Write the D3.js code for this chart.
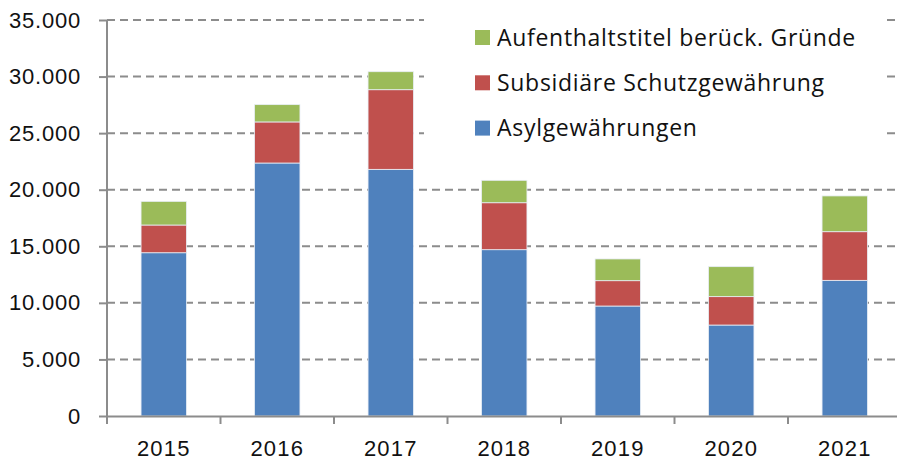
<!DOCTYPE html>
<html>
<head>
<meta charset="utf-8">
<script src="https://cdn.jsdelivr.net/npm/d3@7"></script>
<style>
  body { margin: 0; background: #fff; }
  svg { display: block; font-family: "Open Sans", "Lato", sans-serif; }
</style>
</head>
<body>
<script>
// jahre und werte (gestapelt)
var jahre = ["2015", "2016", "2017", "2018", "2019", "2020", "2021"];
var asyl = [14430, 22360, 21800, 14700, 9720, 8040, 11990];
var subsidiaer = [2450, 3630, 7040, 4150, 2240, 2510, 4300];
var aufenthalt = [2090, 1530, 1590, 1980, 1920, 2650, 3160];
var serienNamen = ["Asylgewährungen", "Subsidiäre Schutzgewährung", "Aufenthaltstitel berück. Gründe"];
var farben = ["#4F81BD", "#C0504D", "#9BBB59"];
var yTicks = [0, 5000, 10000, 15000, 20000, 25000, 30000, 35000];

var vis = { w: 897, h: 463, left: 107, right: 901.5, top: 20, bottom: 416 };

var svg = d3.select("body").append("svg")
    .attr("width", vis.w).attr("height", vis.h);

var tabelle = jahre.map(function(j, i) {
  return { jahr: j, a: asyl[i], s: subsidiaer[i], g: aufenthalt[i] };
});
var stapel = d3.stack().keys(["a", "s", "g"])(tabelle);

var x = d3.scaleBand().domain(jahre).range([vis.left, vis.right]).paddingInner(0.6).paddingOuter(0.3);
var y = d3.scaleLinear().domain([0, 35000]).range([vis.bottom, vis.top]);

var fmt = function(d) { return d3.format(",")(d).replace(/,/g, "."); };

// gitterlinien
svg.append("g").selectAll("line")
  .data(yTicks.filter(function(d) { return d > 0; }))
  .enter().append("line")
  .attr("x1", vis.left).attr("x2", vis.w)
  .attr("y1", function(d) { return y(d); }).attr("y2", function(d) { return y(d); })
  .attr("stroke", "#8c8c8c").attr("stroke-width", 2).attr("stroke-dasharray", "8,5");

// balken
svg.append("g").selectAll("g")
  .data(stapel).enter().append("g")
  .attr("fill", function(d, i) { return farben[i]; })
  .selectAll("rect")
  .data(function(d) { return d; })
  .enter().append("rect")
  .attr("x", function(d) { return x(d.data.jahr); })
  .attr("width", x.bandwidth())
  .attr("y", function(d) { return y(d[1]); })
  .attr("height", function(d) { return y(d[0]) - y(d[1]); })
  .attr("stroke", "#e8eef6").attr("stroke-width", 0.8);

// y achse
var yAchse = svg.append("g").attr("transform", "translate(" + vis.left + ",0)")
  .call(d3.axisLeft(y).tickValues(yTicks).tickFormat(fmt).tickSize(8).tickPadding(18));
yAchse.select(".domain").attr("stroke", "#8c8c8c").attr("stroke-width", 2)
  .attr("d", "M0," + vis.top + "V" + vis.bottom);
yAchse.selectAll(".tick line").attr("stroke", "#8c8c8c").attr("stroke-width", 2);
yAchse.selectAll("text").attr("font-size", 22).attr("fill", "#111").attr("letter-spacing", 0.8);

// x achse
var xAchse = svg.append("g").attr("transform", "translate(0," + vis.bottom + ")")
  .call(d3.axisBottom(x).tickSize(0).tickPadding(24));
xAchse.select(".domain").attr("stroke", "#8c8c8c").attr("stroke-width", 2);
xAchse.selectAll("text").attr("font-size", 22).attr("fill", "#111").attr("letter-spacing", 1.2);
// trennstriche zwischen kategorien
svg.append("g").selectAll("line")
  .data(d3.range(jahre.length + 1))
  .enter().append("line")
  .attr("x1", function(i) { return vis.left + i * (vis.right - vis.left) / jahre.length; })
  .attr("x2", function(i) { return vis.left + i * (vis.right - vis.left) / jahre.length; })
  .attr("y1", vis.bottom).attr("y2", vis.bottom + 8)
  .attr("stroke", "#8c8c8c").attr("stroke-width", 2);

// legende
var leg = svg.append("g");
leg.append("rect").attr("x", 424).attr("y", 6).attr("width", 459).attr("height", 140).attr("fill", "#fff");
var reihen = [2, 1, 0];
reihen.forEach(function(s, k) {
  var yy = 37.5 + k * 45.3;
  leg.append("rect").attr("x", 475).attr("y", yy - 7.5).attr("width", 15).attr("height", 15).attr("fill", farben[s]);
  leg.append("text").attr("x", 497).attr("y", yy).attr("dy", "0.36em")
    .attr("font-size", 23).attr("letter-spacing", 0.7).attr("fill", "#111").text(serienNamen[s]);
});
</script>
</body>
</html>
